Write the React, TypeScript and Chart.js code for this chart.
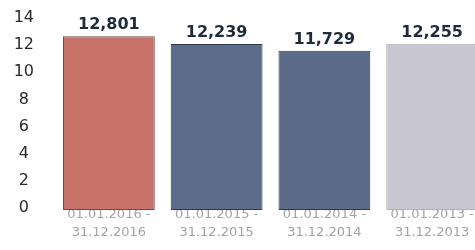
import React, { useEffect, useRef } from "react";
import { Chart, registerables } from "chart.js";

Chart.register(...registerables);

const periodStart = ["01.01.2016 -", "01.01.2015 -", "01.01.2014 -", "01.01.2013 -"];
const periodEnd = ["31.12.2016", "31.12.2015", "31.12.2014", "31.12.2013"];
const values = [12.801, 12.239, 11.729, 12.255];
const barColors = ["#c8736a", "#5b6d8a", "#5a6b88", "#c8c6d0"];
const barBorders = ["#6e4a45", "#2f3a4c", "#2f3a4c", "#b4b3ba"];
const yMax = 14;
const yStep = 2;

const valueLabels = {
  id: "valueLabels",
  afterDatasetsDraw(chart: any) {
    const ctx = chart.ctx;
    const meta = chart.getDatasetMeta(0);
    ctx.save();
    ctx.font = "bold 16px 'DejaVu Sans'";
    ctx.fillStyle = "#1f2b3b";
    ctx.textAlign = "center";
    ctx.textBaseline = "middle";
    meta.data.forEach((bar: any, i: number) => {
      const txt = values[i].toFixed(3).replace(".", ",");
      ctx.fillText(txt, bar.x, bar.y - 11);
    });
    ctx.restore();
  },
};

export default function App() {
  const ref = useRef<HTMLCanvasElement>(null);
  useEffect(() => {
    if (!ref.current) return;
    const chart = new Chart(ref.current, {
      type: "bar",
      data: {
        labels: periodStart.map((s, i) => [s, periodEnd[i]]),
        datasets: [
          {
            data: values,
            backgroundColor: barColors,
            borderColor: barBorders,
            borderWidth: 1,
            borderSkipped: false,
            categoryPercentage: 1,
            barPercentage: 0.852,
          },
        ],
      },
      options: {
        animation: false,
        responsive: false,
        devicePixelRatio: 1,
        layout: { padding: { top: 20, right: 4, left: 0, bottom: 0 } },
        plugins: { legend: { display: false }, tooltip: { enabled: false } },
        scales: {
          x: {
            grid: { display: false, drawTicks: false },
            border: { display: false },
            ticks: {
              padding: -4,
              color: "#a3a3a3",
              font: { family: "'DejaVu Sans'", size: 13, lineHeight: "18px" },
              maxRotation: 0,
              autoSkip: false,
            },
            afterFit(scale: any) {
              scale.height = 40;
            },
          },
          y: {
            min: 0,
            max: yMax,
            grid: { display: false, drawTicks: false },
            border: { display: false },
            ticks: {
              stepSize: yStep,
              padding: 21,
              crossAlign: "center",
              labelOffset: -2,
              color: "#2a2a2a",
              font: { family: "'DejaVu Sans'", size: 16 },
            },
            afterFit(scale: any) {
              scale.width = 55;
              scale.paddingTop = 0;
              scale.paddingBottom = 0;
            },
          },
        },
      },
      plugins: [valueLabels],
    });
    return () => chart.destroy();
  }, []);
  return (
    <div style={{ position: "fixed", left: 0, top: 0, width: 475, height: 250, overflow: "hidden", background: "#fff" }}>
      <canvas ref={ref} width={490} height={250} style={{ display: "block" }} />
    </div>
  );
}
